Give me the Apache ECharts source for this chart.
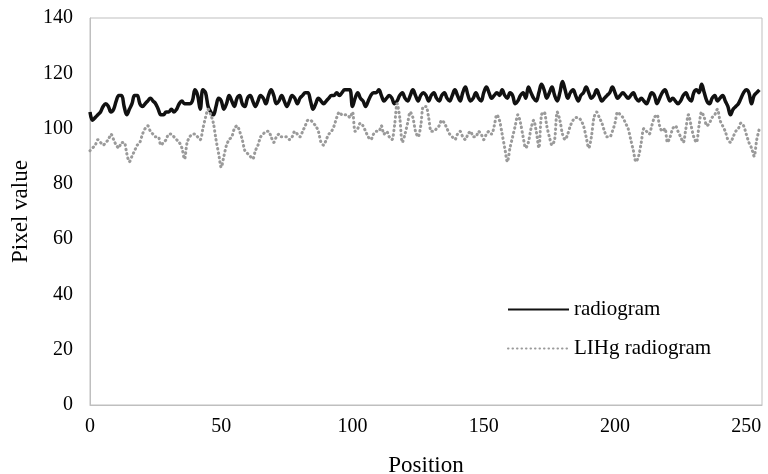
<!DOCTYPE html>
<html>
<head>
<meta charset="utf-8">
<script src="https://cdn.jsdelivr.net/npm/echarts@6/dist/echarts.min.js"></script>
<style>html,body{margin:0;padding:0;background:#fff}#c{width:768px;height:474px}</style>
</head>
<body>
<div id="c"></div>
<script>
const radiogram = [
106,103,104,105,106,108,109,108,106,107,
110,112,112,108,105,107,109,112,112,109,
108,109,110,111,110,109,107,105,105,106,
106,107,106,107,109,110,109,109,109,110,
114,112,107,114,113,108,106,105,108,111,
110,107,109,112,110,108,111,112,109,108,
111,112,110,108,110,112,111,109,112,114,
112,109,110,112,110,108,110,112,111,109,
111,112,113,113,110,107,109,111,110,109,
110,111,112,112,113,112,113,114,114,114,
108,111,113,111,110,108,110,112,113,113,
114,112,110,111,112,111,109,110,112,113,
111,110,112,114,112,110,112,113,112,110,
112,113,111,110,112,113,111,110,112,114,
112,110,113,115,112,110,111,113,111,110,
113,115,113,111,112,113,112,114,112,111,
113,112,109,110,112,113,111,115,113,111,
110,113,116,114,111,113,115,112,110,113,
117,114,111,113,114,112,110,112,113,115,
113,111,112,114,112,110,111,112,113,115,
113,111,112,113,112,111,112,113,111,110,
111,110,109,111,113,112,109,111,113,114,
112,110,111,110,109,110,112,113,111,110,
113,114,113,116,113,110,109,111,112,110,
111,112,110,108,105,107,108,109,111,113,
114,113,109,112,113,114
];
const lihgRadiogram = [
92,93,94,96,95,94,95,96,98,96,
94,93,95,95,91,88,90,92,94,95,
98,100,101,99,98,97,97,94,95,96,
98,98,97,96,95,93,89,95,97,98,
98,97,96,100,104,107,105,102,96,91,
86,90,94,96,97,100,101,99,96,92,
91,90,89,92,94,97,98,99,99,97,
95,97,98,97,97,97,96,97,99,98,
97,99,101,103,103,102,101,99,95,94,
96,98,99,101,104,106,105,105,105,104,
106,99,100,102,101,99,97,96,98,99,
99,101,98,99,97,96,101,109,104,95,
98,102,106,104,99,97,101,108,108,104,
99,99,100,101,103,102,100,98,97,96,
98,99,97,96,98,99,97,97,99,98,
96,98,99,98,101,105,103,98,93,88,
93,97,101,105,102,97,93,95,100,103,
99,93,105,106,101,97,94,96,106,103,
98,96,98,101,103,104,104,103,101,97,
93,97,104,106,104,102,99,97,97,99,
102,106,105,104,102,100,96,92,88,90,
95,100,99,98,101,104,105,101,99,100,
95,97,100,101,99,97,95,100,105,101,
97,95,101,106,104,101,102,104,105,107,
103,101,99,96,95,97,99,100,102,101,
98,95,93,90,96,100
];
const seriesNames = ['radiogram', 'LIHg radiogram'];
const xTitle = 'Position';
const yTitle = 'Pixel value';

const font = 'Liberation Serif, Times New Roman, serif';
const chart = echarts.init(document.getElementById('c'));
const toPairs = arr => arr.map((v, i) => [i, v]);
chart.setOption({
  animation: false,
  grid: { left: 90, right: 6, top: 18, bottom: 69, containLabel: false, outerBoundsMode: 'none',
          show: true, borderColor: '#bfbfbf', borderWidth: 1 },
  legend: {
    orient: 'vertical', left: 502, top: 294, itemWidth: 61, itemHeight: 14, itemGap: 18,
    data: seriesNames,
    itemStyle: { opacity: 0 },
    textStyle: { fontFamily: font, fontSize: 21, color: '#000' }
  },
  xAxis: {
    type: 'value', min: 0, max: 256, interval: 50,
    name: xTitle, nameLocation: 'middle', nameGap: 49,
    nameTextStyle: { fontFamily: font, fontSize: 23, color: '#000' },
    axisLine: { show: true, lineStyle: { color: '#bfbfbf' } },
    axisTick: { show: false }, splitLine: { show: false },
    axisLabel: { fontFamily: font, fontSize: 20, color: '#000', margin: 12, showMaxLabel: false }
  },
  yAxis: {
    type: 'value', min: 0, max: 140, interval: 20,
    name: yTitle, nameLocation: 'middle', nameGap: 57,
    nameTextStyle: { fontFamily: font, fontSize: 23, color: '#000' },
    axisLine: { show: true, lineStyle: { color: '#bfbfbf' } },
    axisTick: { show: false }, splitLine: { show: false },
    axisLabel: { fontFamily: font, fontSize: 20, color: '#000', margin: 17 }
  },
  series: [
    { name: seriesNames[0], type: 'line', data: toPairs(radiogram), symbol: 'none', smooth: 0.4,
      lineStyle: { color: '#111', width: 3.5 }, itemStyle: { color: '#111' } },
    { name: seriesNames[1], type: 'line', data: toPairs(lihgRadiogram), symbol: 'none', smooth: 0.3,
      lineStyle: { color: '#9a9a9a', width: 3, type: [0.5, 4], cap: 'round' }, itemStyle: { color: '#9a9a9a' } }
  ]
});
</script>
</body>
</html>
